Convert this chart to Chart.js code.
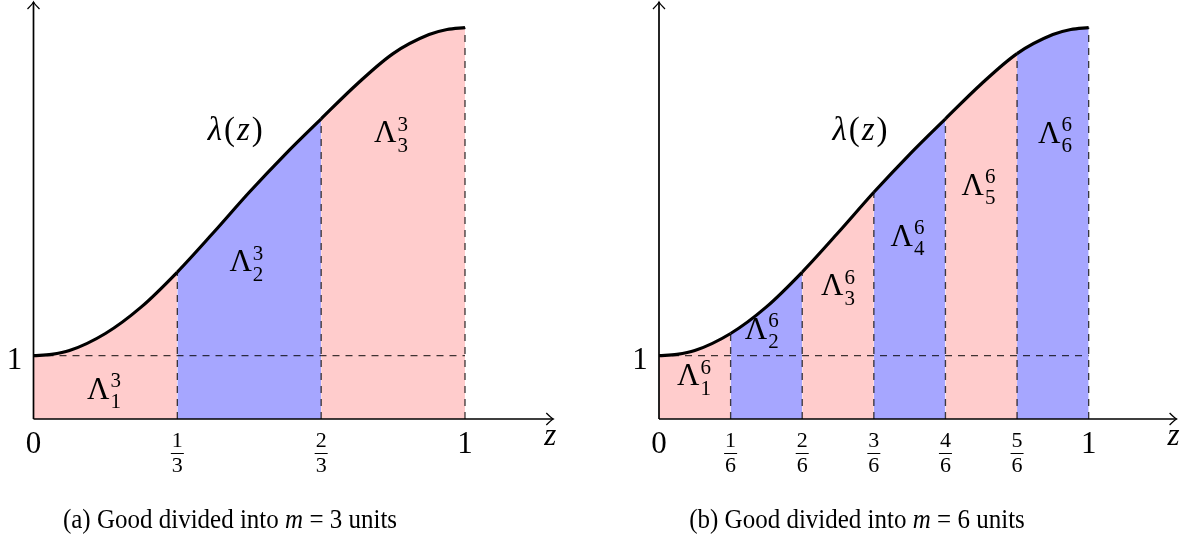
<!DOCTYPE html>
<html>
<head>
<meta charset="utf-8">
<script src="https://cdn.jsdelivr.net/npm/chart.js@4.4.1/dist/chart.umd.min.js"></script>
<style>
  html, body { margin: 0; padding: 0; background: #fff; }
  body { width: 1185px; height: 544px; position: relative; overflow: hidden; }
  .panel { position: absolute; top: 0; height: 544px; }
  .caption {
    position: absolute; top: 505px; transform: translateX(-50%) scaleY(1.08);
    font-family: "Liberation Serif", serif; font-size: 25px; white-space: nowrap; color: #000;
  }
</style>
</head>
<body>
<div class="panel" style="left:0;width:592px"><canvas id="chartA" width="592" height="544"></canvas></div>
<div class="panel" style="left:592px;width:593px"><canvas id="chartB" width="593" height="544"></canvas></div>
<div class="caption" style="left:230px">(a) Good divided into <i>m</i> = 3 units</div>
<div class="caption" style="left:857px">(b) Good divided into <i>m</i> = 6 units</div>
<script>
// curve lambda(z) (steps of 1/12, a little finer at both ends)
const zPoints = [0, 1/24, 1/12, 2/12, 3/12, 4/12, 5/12, 6/12, 7/12, 8/12, 9/12, 10/12, 11/12, 23/24, 1];
const lambdaValues = [1.00, 1.02, 1.08, 1.35, 1.77, 2.32, 2.94, 3.58, 4.18, 4.74, 5.29, 5.77, 6.07, 6.15, 6.18];
const baseLevel = 1;

const tickValuesA = [0, 1/3, 2/3, 1];
const tickLabelsA = ['0', ['1', '3'], ['2', '3'], '1'];
const tickValuesB = [0, 1/6, 2/6, 3/6, 4/6, 5/6, 1];
const tickLabelsB = ['0', ['1', '6'], ['2', '6'], ['3', '6'], ['4', '6'], ['5', '6'], '1'];

const PINK = '#FFCCCC';
const BLUE = '#A6A6FF';
const SERIF = '"Liberation Serif", "DejaVu Serif", serif';

// where the Λ labels sit (data coordinates of the Λ glyph centre)
const spotsA = [[0.15, 0.45], [0.48, 2.46], [0.815, 4.5]];
const spotsB = [[0.068, 0.66], [0.226, 1.39], [0.403, 2.08], [0.565, 2.86], [0.73, 3.67], [0.908, 4.49]];

function curveAt(k, m) {
  const idx = zPoints.findIndex(z => Math.abs(z - k / m) < 1e-9);
  return lambdaValues[idx];
}

function dashed(points) {
  return {
    data: points, borderColor: 'rgba(0,0,0,0.75)', borderWidth: 1.35,
    borderDash: [7, 6], pointRadius: 0, fill: false, order: 1
  };
}

function drawArrow(ctx, x, y, dir) {
  // small open tikz style arrow head
  ctx.beginPath();
  if (dir === 'right') {
    ctx.moveTo(x - 7, y - 6);
    ctx.quadraticCurveTo(x - 2, y - 1, x, y);
    ctx.quadraticCurveTo(x - 2, y + 1, x - 7, y + 6);
  } else {
    ctx.moveTo(x - 6, y + 7);
    ctx.quadraticCurveTo(x - 1, y + 2, x, y);
    ctx.quadraticCurveTo(x + 1, y + 2, x + 6, y + 7);
  }
  ctx.stroke();
}

function decorPlugin(m, tickValues, tickLabels, spots) {
  return {
    id: 'decor',
    afterDatasetsDraw(chart) {
      const { ctx, scales: { x, y } } = chart;
      const x0 = x.getPixelForValue(0);
      const y0 = y.getPixelForValue(0);
      const xEnd = x.getPixelForValue(x.max) + 2;
      const yTop = y.getPixelForValue(y.max) + 1;
      ctx.save();
      ctx.strokeStyle = '#000';
      ctx.fillStyle = '#000';
      ctx.lineWidth = 1.7;
      ctx.beginPath();
      ctx.moveTo(x0, y0); ctx.lineTo(xEnd, y0);
      ctx.moveTo(x0, y0); ctx.lineTo(x0, yTop);
      ctx.stroke();
      ctx.lineWidth = 1.3;
      drawArrow(ctx, xEnd, y0, 'right');
      drawArrow(ctx, x0, yTop, 'up');

      // tick labels on z axis
      ctx.textAlign = 'center';
      ctx.textBaseline = 'middle';
      tickValues.forEach((v, i) => {
        const px = x.getPixelForValue(v);
        const lab = tickLabels[i];
        if (Array.isArray(lab)) {
          ctx.font = '22px ' + SERIF;
          ctx.fillText(lab[0], px, 441);
          ctx.fillText(lab[1], px, 466);
          ctx.lineWidth = 1;
          ctx.beginPath();
          ctx.moveTo(px - 6.5, 453.5); ctx.lineTo(px + 6.5, 453.5);
          ctx.stroke();
        } else {
          ctx.font = '31px ' + SERIF;
          ctx.fillText(lab, px, 445);
        }
      });
      // y label "1"
      ctx.font = '31px ' + SERIF;
      ctx.fillText('1', x0 - 19, y.getPixelForValue(baseLevel) + 5);
      // axis name z
      ctx.font = 'italic 31px ' + SERIF;
      ctx.fillText('z', xEnd - 3, 437);

      // λ(z)
      const lx = x.getPixelForValue(0.47), ly = y.getPixelForValue(4.55);
      const parts = [['λ', 'italic '], ['(', ''], ['z', 'italic '], [')', '']];
      const gap = 2;
      let total = 0;
      parts.forEach(p => { ctx.font = p[1] + '33px ' + SERIF; total += ctx.measureText(p[0]).width + gap; });
      let cx = lx - total / 2;
      ctx.textAlign = 'left';
      parts.forEach(p => {
        ctx.font = p[1] + '33px ' + SERIF;
        ctx.fillText(p[0], cx, ly);
        cx += ctx.measureText(p[0]).width + gap;
      });

      // Λ_i^m labels
      spots.forEach((s, i) => {
        const px = x.getPixelForValue(s[0]);
        const py = y.getPixelForValue(s[1]);
        ctx.font = '31px ' + SERIF;
        ctx.textAlign = 'center';
        const w = ctx.measureText('Λ').width;
        ctx.fillText('Λ', px, py);
        ctx.font = '21px ' + SERIF;
        ctx.textAlign = 'left';
        ctx.fillText(String(m), px + w / 2 + 1, py - 9);
        ctx.fillText(String(i + 1), px + w / 2 + 1, py + 12);
      });
      ctx.restore();
    }
  };
}

function buildChart(id, m, tickValues, tickLabels, spots, padding) {
  const curve = {
    data: zPoints.map((z, i) => ({ x: z, y: lambdaValues[i] })),
    borderColor: '#000',
    borderWidth: 3.2,
    pointRadius: 0,
    cubicInterpolationMode: 'monotone',
    fill: 'origin',
    backgroundColor: PINK,
    segment: {
      backgroundColor: ctx => (Math.floor(ctx.p0.parsed.x * m + 1e-6) % 2 === 0 ? PINK : BLUE)
    },
    order: 0
  };
  const datasets = [curve, dashed([{ x: 0, y: baseLevel }, { x: 1, y: baseLevel }])];
  for (let k = 1; k <= m; k++) {
    datasets.push(dashed([{ x: k / m, y: 0 }, { x: k / m, y: curveAt(k, m) }]));
  }
  return new Chart(document.getElementById(id), {
    type: 'line',
    data: { datasets },
    options: {
      responsive: false,
      animation: false,
      events: [],
      layout: { padding },
      scales: {
        x: { type: 'linear', min: 0, max: 1.2, display: false },
        y: { type: 'linear', min: 0, max: 6.6, display: false }
      },
      plugins: {
        legend: { display: false },
        tooltip: { enabled: false },
        filler: { drawTime: 'beforeDatasetsDraw' }
      }
    },
    plugins: [decorPlugin(m, tickValues, tickLabels, spots)]
  });
}

buildChart('chartA', 3, tickValuesA, tickLabelsA, spotsA, { left: 33.5, right: 40.7, top: 1, bottom: 125 });
buildChart('chartB', 6, tickValuesB, tickLabelsB, spotsB, { left: 67, right: 10.4, top: 1, bottom: 125 });
</script>
</body>
</html>
